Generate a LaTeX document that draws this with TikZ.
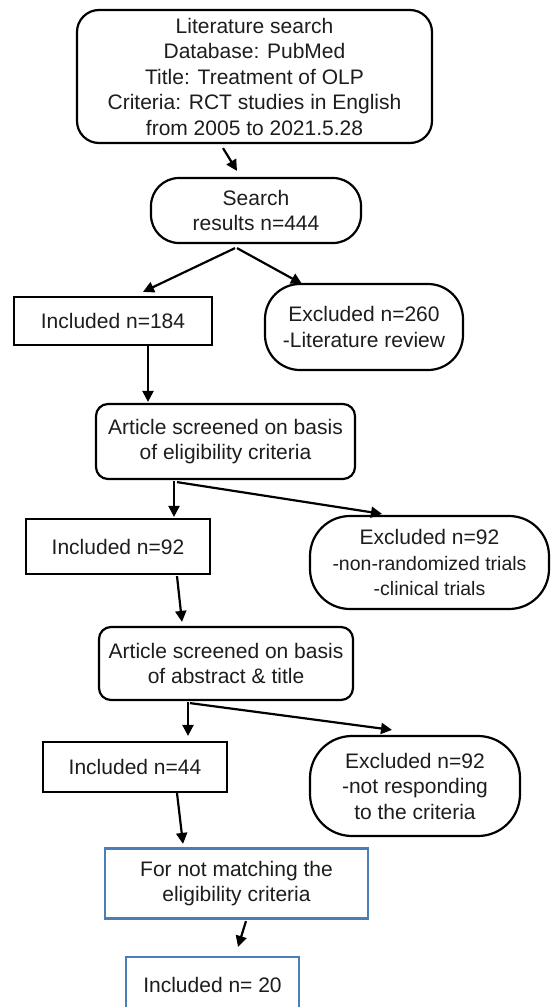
\documentclass[tikz,border=0pt]{standalone}
\usepackage{fontspec}
\setmainfont{Liberation Sans}
\usetikzlibrary{arrows.meta}
\definecolor{txt}{HTML}{1E1C1D}
\definecolor{bluebox}{RGB}{74,126,187}
\tikzset{
  box/.style={draw=black, line width=2.2pt, align=center, inner sep=0pt, text=txt,
    font=\fontsize{21}{25.5}\selectfont},
  rbox/.style={box, rounded corners=#1},
  bbox/.style={box, draw=bluebox},
  arr/.style={draw=black, line width=2.2pt, -{Triangle[length=11pt,width=11pt]}},
}
\begin{document}
\begin{tikzpicture}[x=1pt,y=-1pt]
\clip (0,0) rectangle (550,1007);
\fill[white] (0,0) rectangle (550,1007);

\node[rbox=22pt, minimum width=355pt, minimum height=133pt]
  (lit) at (254.5,76.5) {Literature search\\Database: PubMed\\Title: Treatment of OLP\\Criteria: RCT studies in English\\from 2005 to 2021.5.28};
\node[rbox=28pt, minimum width=210pt, minimum height=65pt] (search) at (256,210.5) {Search\\results n=444};
\node[box, minimum width=198pt, minimum height=48pt] (inc184) at (113,321) {Included n=184};
\node[rbox=35pt, minimum width=198pt, minimum height=86pt] (exc260) at (364,327) {Excluded n=260\\-Literature review};
\node[rbox=12pt, minimum width=259pt, minimum height=75pt] (art1) at (225.5,441.5) {Article screened on basis\\of eligibility criteria};
\node[box, minimum width=184pt, minimum height=55pt] (inc92) at (118,546.5) {Included n=92};
\node[rbox=40pt, minimum width=239pt, minimum height=93pt] (exc92a) at (429.5,562.5) {\raisebox{-5pt}{\parbox{235pt}{\centering Excluded n=92\\\fontsize{19.5}{25.5}\selectfont -non-randomized trials\\-clinical trials}}};
\node[rbox=12pt, minimum width=254pt, minimum height=73pt] (art2) at (226,663.5) {Article screened on basis\\of abstract \& title};
\node[box, minimum width=184pt, minimum height=50pt] (inc44) at (135,767) {Included n=44};
\node[rbox=42pt, minimum width=210pt, minimum height=100pt] (exc92b) at (415,786) {Excluded n=92\\-not responding\\to the criteria};
\node[bbox, minimum width=263pt, minimum height=70pt] (blue1) at (236.5,883.5) {For not matching the\\eligibility criteria};
\node[bbox, minimum width=173pt, minimum height=56pt] (inc20) at (212.5,985) {Included n= 20};

\draw[arr] ([shift={(-31.5,4)}]lit.south) -- ([shift={(-19,-6)}]search.north);
\draw[arr] ([shift={(-21,4)}]search.south) -- ([shift={(30,-4)}]inc184.north);
\draw[arr] ([shift={(-19,4)}]search.south) -- ([shift={(-62,1)}]exc260.north);
\draw[arr] ([shift={(35,0)}]inc184.south) -- ([shift={(-77.5,-1)}]art1.north);
\draw[arr] ([shift={(-51.5,1)}]art1.south) -- ([shift={(56,-1)}]inc92.north);
\draw[arr] ([shift={(-48.5,2)}]art1.south) -- ([shift={(-47.5,-1)}]exc92a.north);
\draw[arr] ([shift={(59,1)}]inc92.south) -- ([shift={(-44,-4)}]art2.north);
\draw[arr] ([shift={(-38,1)}]art2.south) -- ([shift={(53,-5)}]inc44.north);
\draw[arr] ([shift={(-36,2)}]art2.south) -- ([shift={(-23,-5)}]exc92b.north);
\draw[arr] ([shift={(42,0)}]inc44.south) -- ([shift={(-53.5,-3.5)}]blue1.north);
\draw[arr] ([shift={(9.5,1.5)}]blue1.south) -- ([shift={(25.5,-9)}]inc20.north);
\end{tikzpicture}
\end{document}
